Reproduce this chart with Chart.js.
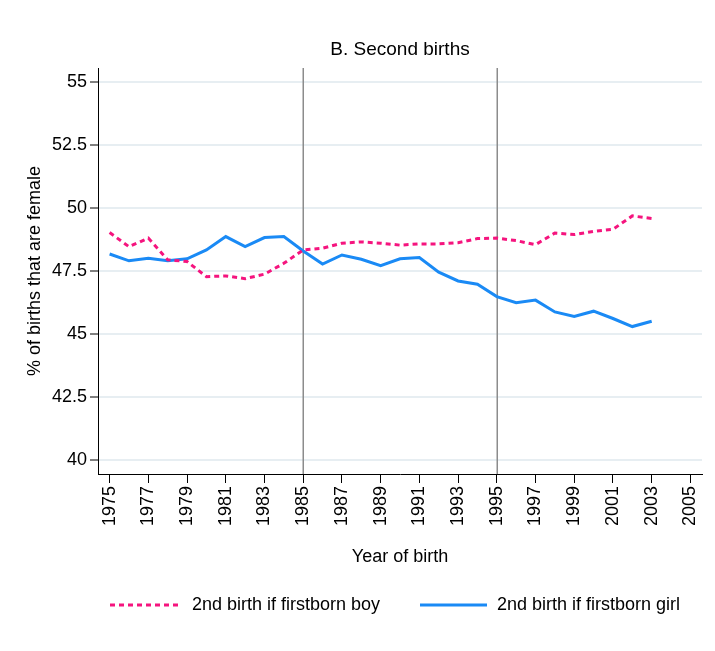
<!DOCTYPE html>
<html>
<head>
<meta charset="utf-8">
<script src="https://cdn.jsdelivr.net/npm/chart.js@4/dist/chart.umd.min.js"></script>
<style>
  html, body { margin: 0; padding: 0; background: #ffffff; }
  #wrap { width: 715px; height: 651px; }
</style>
</head>
<body>
<div id="wrap"><canvas id="c" width="715" height="651"></canvas></div>
<script>
const chartTitle = 'B. Second births';
const xAxisTitle = 'Year of birth';
const yAxisTitle = '% of births that are female';
const years = [1975,1976,1977,1978,1979,1980,1981,1982,1983,1984,1985,1986,1987,1988,1989,1990,1991,1992,1993,1994,1995,1996,1997,1998,1999,2000,2001,2002,2003];
const boyLabel = '2nd birth if firstborn boy';
const boyValues = [49.02,48.46,48.80,47.94,47.87,47.27,47.30,47.19,47.37,47.80,48.33,48.40,48.60,48.65,48.60,48.52,48.57,48.57,48.62,48.78,48.80,48.70,48.54,49.00,48.94,49.07,49.15,49.68,49.58];
const girlLabel = '2nd birth if firstborn girl';
const girlValues = [48.17,47.90,48.00,47.90,47.98,48.33,48.86,48.46,48.82,48.86,48.29,47.77,48.13,47.96,47.71,47.98,48.03,47.45,47.10,46.97,46.48,46.24,46.34,45.87,45.69,45.90,45.61,45.29,45.50];
const xTickValues = [1975,1977,1979,1981,1983,1985,1987,1989,1991,1993,1995,1997,1999,2001,2003,2005];
const yTickValues = [40,42.5,45,47.5,50,52.5,55];
const referenceYears = [1985,1995];

const FONT = "'Liberation Sans', Arial, Helvetica, sans-serif";
Chart.defaults.font.family = FONT;
Chart.defaults.color = '#000';

const PINK = '#f5147e';
const BLUE = '#1a8af5';

const overlay = {
  id: 'overlay',
  beforeDatasetsDraw(chart) {
    const {ctx, chartArea, scales} = chart;
    ctx.save();
    ctx.strokeStyle = '#8c8c8c';
    ctx.lineWidth = 1.5;
    referenceYears.forEach(yr => {
      const x = Math.round(scales.x.getPixelForValue(yr)) + 0.25;
      ctx.beginPath();
      ctx.moveTo(x, chartArea.top);
      ctx.lineTo(x, chartArea.bottom);
      ctx.stroke();
    });
    ctx.restore();
  },
  afterDraw(chart) {
    const {ctx, chartArea} = chart;
    ctx.save();
    ctx.fillStyle = '#000';
    ctx.textBaseline = 'middle';
    ctx.font = "19px " + FONT;
    ctx.textAlign = 'center';
    ctx.fillText(chartTitle, (chartArea.left + chartArea.right) / 2, 50);
    // legend
    const items = [
      {ds: chart.data.datasets[0], x0: 110, x1: 180, tx: 192},
      {ds: chart.data.datasets[1], x0: 420, x1: 487, tx: 497}
    ];
    const ly = 605;
    ctx.font = "18px " + FONT;
    ctx.textAlign = 'left';
    items.forEach(it => {
      ctx.save();
      ctx.strokeStyle = it.ds.borderColor;
      ctx.lineWidth = it.ds.borderWidth;
      ctx.setLineDash(it.ds.borderDash || []);
      ctx.beginPath();
      ctx.moveTo(it.x0, ly);
      ctx.lineTo(it.x1, ly);
      ctx.stroke();
      ctx.restore();
      ctx.fillStyle = '#000';
      ctx.fillText(it.ds.label, it.tx, ly);
    });
    ctx.restore();
  }
};

new Chart(document.getElementById('c'), {
  type: 'line',
  data: {
    datasets: [
      {
        label: boyLabel,
        data: years.map((y, i) => ({x: y, y: boyValues[i]})),
        borderColor: PINK,
        borderWidth: 3,
        borderDash: [5, 4],
        pointRadius: 0,
        tension: 0,
        fill: false
      },
      {
        label: girlLabel,
        data: years.map((y, i) => ({x: y, y: girlValues[i]})),
        borderColor: BLUE,
        borderWidth: 3,
        pointRadius: 0,
        tension: 0,
        fill: false
      }
    ]
  },
  options: {
    responsive: false,
    animation: false,
    devicePixelRatio: 1,
    layout: { padding: { top: 68, left: 0, right: 0, bottom: 77 } },
    plugins: {
      legend: { display: false },
      title: { display: false },
      tooltip: { enabled: false }
    },
    scales: {
      x: {
        type: 'linear',
        min: 1974.4,
        max: 2005.6,
        afterBuildTicks: s => { s.ticks = xTickValues.map(v => ({value: v})); },
        afterFit: s => { s.height = 100; },
        ticks: {
          minRotation: 90,
          maxRotation: 90,
          autoSkip: false,
          padding: 3,
          font: { size: 18 },
          color: '#000',
          callback: v => String(v)
        },
        grid: { drawOnChartArea: false, drawTicks: true, tickLength: 9, tickColor: '#000', tickWidth: 1 },
        border: { display: true, color: '#000', width: 1 },
        title: { display: true, text: xAxisTitle, font: { size: 18 }, color: '#000', padding: { top: 0, bottom: 6 } }
      },
      y: {
        type: 'linear',
        min: 39.44,
        max: 55.55,
        afterBuildTicks: s => { s.ticks = yTickValues.map(v => ({value: v})); },
        afterFit: s => { s.width = 98; },
        ticks: {
          padding: 3,
          font: { size: 18 },
          color: '#000',
          callback: v => String(v)
        },
        grid: { color: '#e7eef2', lineWidth: 2, drawTicks: true, tickLength: 8, tickColor: '#000', tickWidth: 1 },
        border: { display: true, color: '#000', width: 1 },
        title: { display: true, text: yAxisTitle, font: { size: 18 }, color: '#000', padding: { top: 24, bottom: 0 } }
      }
    }
  },
  plugins: [overlay]
});
</script>
</body>
</html>
